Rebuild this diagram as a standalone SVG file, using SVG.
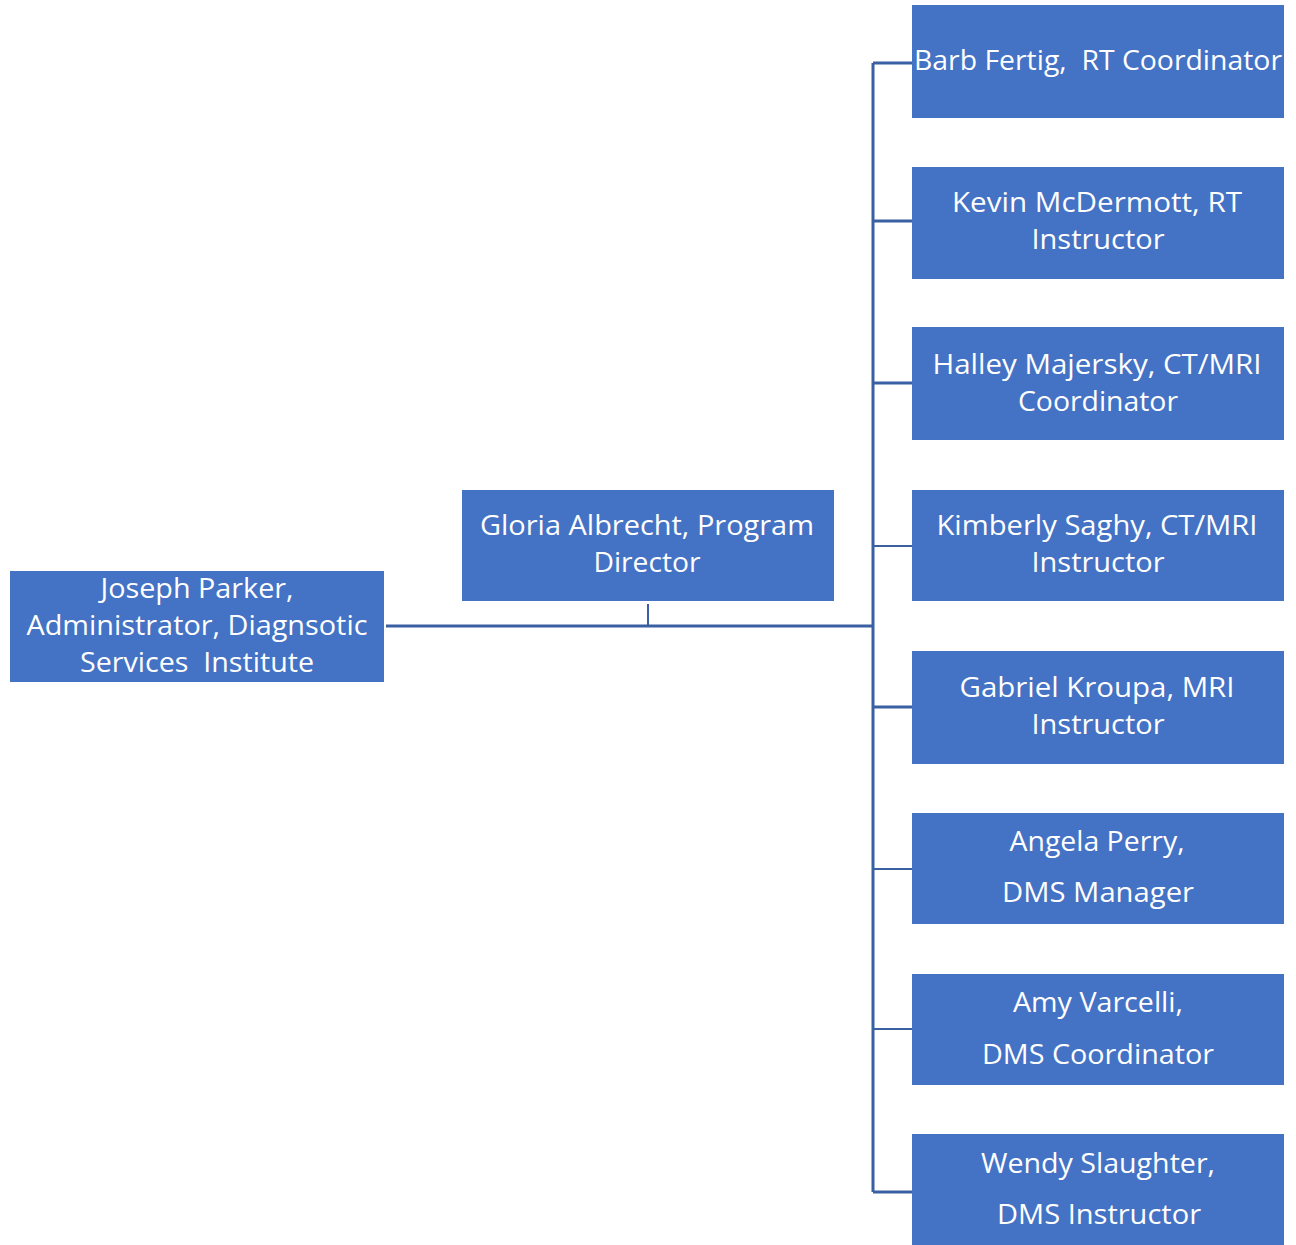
<svg xmlns="http://www.w3.org/2000/svg" width="1296" height="1245" viewBox="0 0 1296 1245">
<style>
.box{fill:#4472C4;}
.t{font-family:"Open Sans","Liberation Sans",sans-serif;font-size:27px;fill:#ffffff;text-anchor:middle;white-space:pre;}
.c{stroke:#3A5FA3;stroke-width:3;fill:none;}
.c2{stroke:#3A5FA3;stroke-width:2;fill:none;}
</style>
<rect width="1296" height="1245" fill="#ffffff"/>
<g id="connectors">
<path class="c" d="M386 626 H873"/>
<path class="c2" d="M648 604 V626"/>
<path class="c" d="M873 63 V1192"/>
<path class="c" d="M873 63 H912"/>
<path class="c" d="M873 221 H912"/>
<path class="c" d="M873 383 H912"/>
<path class="c2" d="M873 546 H912"/>
<path class="c" d="M873 707 H912"/>
<path class="c2" d="M873 869 H912"/>
<path class="c2" d="M873 1029 H912"/>
<path class="c" d="M873 1192 H912"/>
</g>
<g id="joseph">
<rect class="box" x="10" y="571" width="374" height="111"/>
<text class="t" x="197" y="598" textLength="193" lengthAdjust="spacingAndGlyphs">Joseph Parker,</text>
<text class="t" x="197" y="635" textLength="341" lengthAdjust="spacingAndGlyphs">Administrator, Diagnsotic</text>
<text class="t" x="197" y="672" textLength="234" lengthAdjust="spacingAndGlyphs" xml:space="preserve">Services  Institute</text>
</g>
<g id="gloria">
<rect class="box" x="462" y="490" width="372" height="111"/>
<text class="t" x="647" y="535" textLength="334" lengthAdjust="spacingAndGlyphs">Gloria Albrecht, Program</text>
<text class="t" x="647" y="572" textLength="107" lengthAdjust="spacingAndGlyphs">Director</text>
</g>
<g id="barb">
<rect class="box" x="912" y="5" width="372" height="113"/>
<text class="t" x="1098" y="70" textLength="368" lengthAdjust="spacingAndGlyphs" xml:space="preserve">Barb Fertig,  RT Coordinator</text>
</g>
<g id="kevin">
<rect class="box" x="912" y="167" width="372" height="112"/>
<text class="t" x="1097" y="212" textLength="290" lengthAdjust="spacingAndGlyphs">Kevin McDermott, RT</text>
<text class="t" x="1098" y="249" textLength="133" lengthAdjust="spacingAndGlyphs">Instructor</text>
</g>
<g id="halley">
<rect class="box" x="912" y="327" width="372" height="113"/>
<text class="t" x="1097" y="374" textLength="329" lengthAdjust="spacingAndGlyphs">Halley Majersky, CT/MRI</text>
<text class="t" x="1098" y="411" textLength="160" lengthAdjust="spacingAndGlyphs">Coordinator</text>
</g>
<g id="kimberly">
<rect class="box" x="912" y="490" width="372" height="111"/>
<text class="t" x="1097" y="535" textLength="321" lengthAdjust="spacingAndGlyphs">Kimberly Saghy, CT/MRI</text>
<text class="t" x="1098" y="572" textLength="133" lengthAdjust="spacingAndGlyphs">Instructor</text>
</g>
<g id="gabriel">
<rect class="box" x="912" y="651" width="372" height="113"/>
<text class="t" x="1097" y="697" textLength="275" lengthAdjust="spacingAndGlyphs">Gabriel Kroupa, MRI</text>
<text class="t" x="1098" y="734" textLength="133" lengthAdjust="spacingAndGlyphs">Instructor</text>
</g>
<g id="angela">
<rect class="box" x="912" y="813" width="372" height="111"/>
<text class="t" x="1097" y="851" textLength="175" lengthAdjust="spacingAndGlyphs">Angela Perry,</text>
<text class="t" x="1098" y="902" textLength="192" lengthAdjust="spacingAndGlyphs">DMS Manager</text>
</g>
<g id="amy">
<rect class="box" x="912" y="974" width="372" height="111"/>
<text class="t" x="1098" y="1012" textLength="170" lengthAdjust="spacingAndGlyphs">Amy Varcelli,</text>
<text class="t" x="1098" y="1064" textLength="232" lengthAdjust="spacingAndGlyphs">DMS Coordinator</text>
</g>
<g id="wendy">
<rect class="box" x="912" y="1134" width="372" height="111"/>
<text class="t" x="1098" y="1173" textLength="234" lengthAdjust="spacingAndGlyphs">Wendy Slaughter,</text>
<text class="t" x="1099" y="1224" textLength="204" lengthAdjust="spacingAndGlyphs">DMS Instructor</text>
</g>
</svg>
